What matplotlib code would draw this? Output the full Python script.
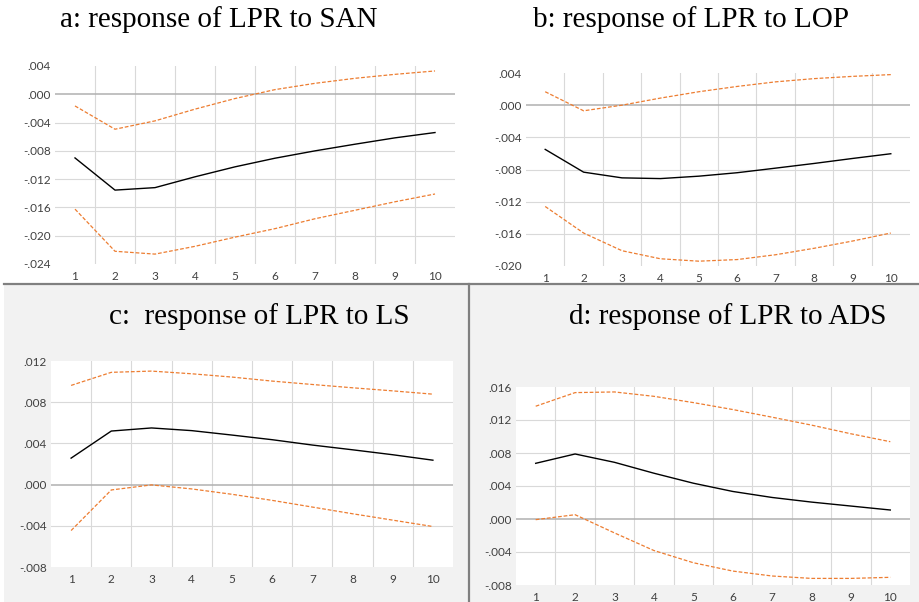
import numpy as np
import matplotlib
matplotlib.use("Agg")
from matplotlib import pyplot as plt
from matplotlib.patches import Rectangle
from matplotlib.lines import Line2D

W, H = 920, 602

periods = list(range(1, 11))

# a: response of LPR to SAN
a_mid = [-0.0090, -0.01355, -0.0132, -0.01167, -0.01026, -0.00904, -0.0080, -0.00706, -0.00616, -0.00541]
a_up = [-0.00165, -0.00494, -0.00376, -0.0021, -0.0006, 0.00066, 0.00155, 0.00226, 0.00282, 0.0033]
a_lo = [-0.01624, -0.0222, -0.0226, -0.0215, -0.0202, -0.0190, -0.0176, -0.0164, -0.0152, -0.0141]

# b: response of LPR to LOP
b_mid = [-0.0055, -0.00833, -0.00904, -0.00913, -0.00883, -0.0084, -0.00783, -0.00725, -0.00663, -0.00604]
b_up = [0.00167, -0.0007, 0.0, 0.00088, 0.00167, 0.00233, 0.0029, 0.0033, 0.00358, 0.0038]
b_lo = [-0.0126, -0.0159, -0.0181, -0.0191, -0.0194, -0.0192, -0.0186, -0.0178, -0.0169, -0.0159]

# c: response of LPR to LS
c_mid = [0.00257, 0.0052, 0.0055, 0.00524, 0.00481, 0.00436, 0.00384, 0.00338, 0.0029, 0.00237]
c_up = [0.00963, 0.0109, 0.01102, 0.01076, 0.01044, 0.01005, 0.00972, 0.0094, 0.0091, 0.00878]
c_lo = [-0.00446, -0.00052, -0.00003, -0.00042, -0.00094, -0.00153, -0.00218, -0.00283, -0.00345, -0.00407]

# d: response of LPR to ADS
d_mid = [0.00675, 0.00788, 0.00687, 0.00555, 0.00434, 0.00334, 0.00261, 0.00205, 0.00157, 0.00109]
d_up = [0.01367, 0.01532, 0.0154, 0.01487, 0.01411, 0.01327, 0.01234, 0.01138, 0.01033, 0.00937]
d_lo = [-0.00008, 0.00052, -0.00169, -0.00382, -0.0053, -0.00631, -0.00691, -0.0072, -0.0072, -0.00707]

panels = [
    ("a: response of LPR to SAN", a_mid, a_up, a_lo, (-0.024, 0.004), (55, 66, 455, 264), (219, 20)),
    ("b: response of LPR to LOP", b_mid, b_up, b_lo, (-0.020, 0.004), (526, 73, 910, 266), (691, 20)),
    ("c:  response of LPR to LS", c_mid, c_up, c_lo, (-0.008, 0.012), (51, 361, 453, 567), (259, 317)),
    ("d: response of LPR to ADS", d_mid, d_up, d_lo, (-0.008, 0.016), (516, 387, 910, 585), (728, 317)),
]

ORANGE = "#ED7D31"
GRID = "#d9d9d9"
TICKC = "#404040"


def fmt(v):
    s = "%.3f" % v
    if s.startswith("-0"):
        return "-" + s[2:]
    if s.startswith("0"):
        return s[1:]
    return s


fig = plt.figure(figsize=(W / 100, H / 100), dpi=100)
fig.patch.set_facecolor("white")

# grey lower half and dividers
fig.patches.append(Rectangle((4 / W, 0), (W - 4) / W, 1 - 284 / H,
                             transform=fig.transFigure, facecolor="#f2f2f2",
                             edgecolor="none", zorder=-10))
fig.lines.append(Line2D([4 / W, 1], [1 - 284 / H, 1 - 284 / H], transform=fig.transFigure,
                        color="#808080", lw=1.6, zorder=-5))
fig.lines.append(Line2D([469 / W, 469 / W], [0, 1 - 284 / H], transform=fig.transFigure,
                        color="#808080", lw=1.6, zorder=-5))

for title, mid, up, lo, ylim, (x0, y0, x1, y1), (tx, ty) in panels:
    ax = fig.add_axes([x0 / W, 1 - y1 / H, (x1 - x0) / W, (y1 - y0) / H])
    ax.set_facecolor("white")
    for s in ax.spines.values():
        s.set_visible(False)
    ax.set_xlim(0.5, 10.5)
    ax.set_ylim(*ylim)
    yt = np.arange(ylim[0], ylim[1] + 1e-9, 0.004)
    for v in yt[1:-1]:
        if abs(v) < 1e-9:
            ax.axhline(0, color="#b0b0b0", lw=1.1, zorder=2)
        else:
            ax.axhline(v, color=GRID, lw=0.8, zorder=1)
    for xv in np.arange(1.5, 10, 1.0):
        ax.axvline(xv, color=GRID, lw=0.8, zorder=1)
    ax.plot(periods, up, color=ORANGE, lw=0.9, ls=(0, (3, 1.5)), zorder=3)
    ax.plot(periods, lo, color=ORANGE, lw=0.9, ls=(0, (3, 1.5)), zorder=3)
    ax.plot(periods, mid, color="black", lw=1.0, zorder=4)
    ax.set_xticks(periods)
    ax.set_xticklabels([str(p) for p in periods])
    ax.set_yticks(yt)
    ax.set_yticklabels([fmt(v) for v in yt])
    ax.tick_params(length=0, labelsize=8.5, labelcolor=TICKC, pad=3)
    ax.tick_params(axis="x", pad=5)
    for lab in ax.get_xticklabels() + ax.get_yticklabels():
        lab.set_fontfamily("Lato")
    fig.text(tx / W, 1 - ty / H, title, ha="center", va="center",
             fontfamily="Liberation Serif", fontsize=21, color="black")

fig.savefig("out.png", dpi=100)
